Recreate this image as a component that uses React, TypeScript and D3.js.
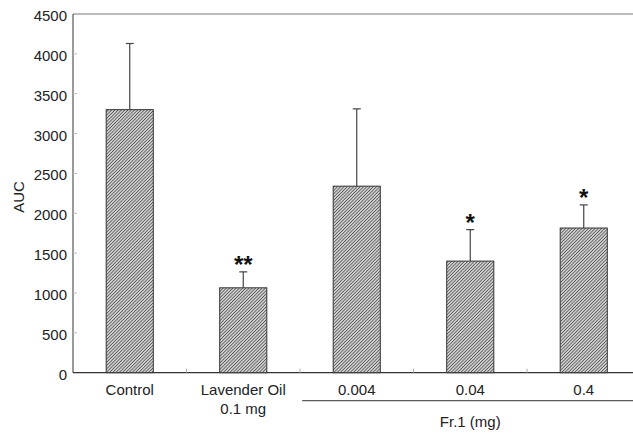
import React from "react";
import * as d3 from "d3";

const categories = ["Control", "Lavender Oil", "0.004", "0.04", "0.4"];
const subLabels = ["", "0.1 mg", "", "", ""];
const means = [3300, 1065, 2340, 1400, 1815];
const errors = [830, 200, 970, 395, 290];
const stars = ["", "**", "", "*", "*"];
const yTicks = [0, 500, 1000, 1500, 2000, 2500, 3000, 3500, 4000, 4500];
const groupLabel = "Fr.1 (mg)";
const yLabel = "AUC";

const W = 633;
const H = 435;
const left = 73;
const top = 14;
const bottom = 372.7;
const rightEnd = 640.5;

export default function App() {
  const x = d3
    .scaleBand<string>()
    .domain(categories)
    .range([left, rightEnd])
    .paddingInner(0.585)
    .paddingOuter(0.2925);
  const y = d3.scaleLinear().domain([0, 4500]).range([bottom, top]);
  const bw = x.bandwidth();
  const step = x.step();
  const font = "Liberation Sans, Arial, sans-serif";
  const fs = 15;

  return (
    <svg
      width={W}
      height={H}
      style={{ position: "absolute", left: 0, top: 0, background: "#fff" }}
      fontFamily={font}
    >
      <defs>
        <pattern
          id="hatch"
          patternUnits="userSpaceOnUse"
          width={2.3}
          height={2.3}
          patternTransform="rotate(45)"
        >
          <rect width={2.3} height={2.3} fill="#d0d0d0" />
          <line x1={0} y1={0} x2={0} y2={2.3} stroke="#222" strokeWidth={1.1} />
        </pattern>
      </defs>

      {/* frame */}
      <line x1={left} x2={W} y1={top} y2={top} stroke="#777" strokeWidth={1.2} />
      <line x1={left} x2={left} y1={top} y2={bottom} stroke="#555" strokeWidth={1.2} />
      <line x1={left} x2={W} y1={bottom} y2={bottom} stroke="#333" strokeWidth={1.2} />

      {/* y ticks */}
      {yTicks.map((t) => (
        <g key={t}>
          {t > 0 && t < 4500 && (
            <line x1={left} x2={left + 4} y1={y(t)} y2={y(t)} stroke="#bbb" strokeWidth={1} />
          )}
          <text
            x={left - 6}
            y={y(t) + 1.5}
            textAnchor="end"
            dominantBaseline="central"
            fontSize={fs}
            fill="#222"
          >
            {t}
          </text>
        </g>
      ))}
      <text
        transform={`translate(18,197) rotate(-90)`}
        textAnchor="middle"
        dominantBaseline="central"
        fontSize={fs}
        fill="#222"
      >
        {yLabel}
      </text>

      {/* x boundary ticks */}
      {categories.slice(1).map((c) => (
        <line
          key={c}
          x1={(x(c) as number) - (step - bw) / 2}
          x2={(x(c) as number) - (step - bw) / 2}
          y1={bottom}
          y2={bottom - 4}
          stroke="#aaa"
          strokeWidth={1}
        />
      ))}

      {/* bars */}
      {categories.map((c, i) => {
        const bx = x(c) as number;
        const cx = bx + bw / 2;
        const capY = y(means[i] + errors[i]);
        return (
          <g key={c}>
            <line x1={cx} x2={cx} y1={y(means[i])} y2={capY} stroke="#444" strokeWidth={1.2} />
            <line x1={cx - 4} x2={cx + 4} y1={capY} y2={capY} stroke="#444" strokeWidth={1.2} />
            <rect
              x={bx}
              y={y(means[i])}
              width={bw}
              height={bottom - y(means[i])}
              fill="url(#hatch)"
              stroke="#333"
              strokeWidth={1}
            />
            {stars[i] && (
              <text
                x={cx}
                y={capY + 1}
                textAnchor="middle"
                fontSize={24}
                fontWeight="bold"
                fill="#111"
              >
                {stars[i]}
              </text>
            )}
            <text x={cx} y={394.5} textAnchor="middle" fontSize={fs} fill="#222">
              {c}
            </text>
            {subLabels[i] && (
              <text x={cx} y={414} textAnchor="middle" fontSize={fs} fill="#222">
                {subLabels[i]}
              </text>
            )}
          </g>
        );
      })}

      {/* group line */}
      <line
        x1={(x("0.004") as number) - 31}
        x2={W}
        y1={400.7}
        y2={400.7}
        stroke="#333"
        strokeWidth={1}
      />
      <text
        x={(x("0.04") as number) + bw / 2}
        y={426.5}
        textAnchor="middle"
        fontSize={fs}
        fill="#222"
      >
        {groupLabel}
      </text>
    </svg>
  );
}
